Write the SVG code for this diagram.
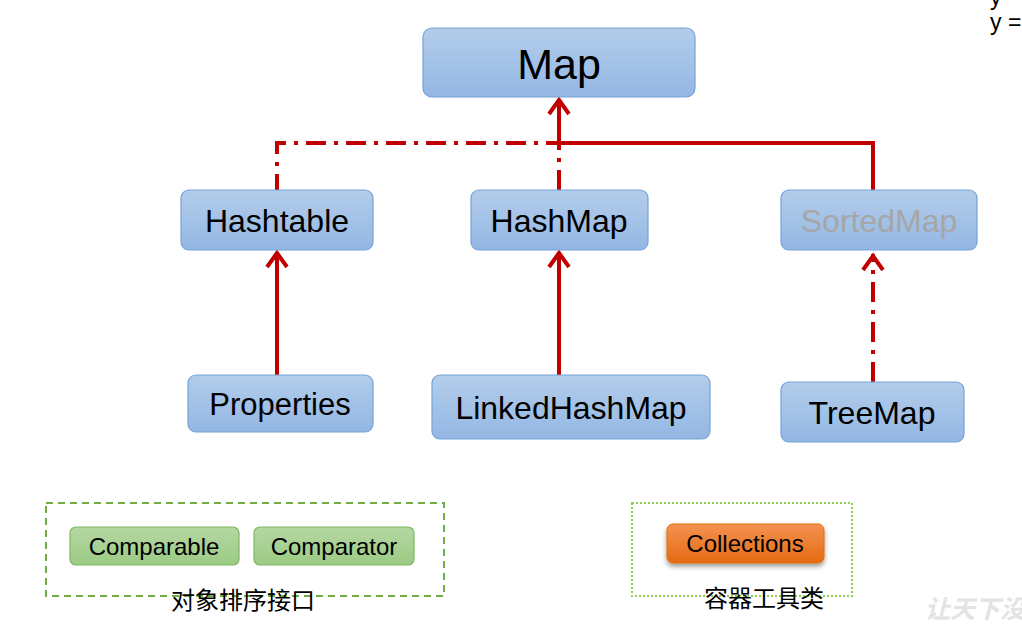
<svg xmlns="http://www.w3.org/2000/svg" width="1022" height="630" viewBox="0 0 1022 630">
<defs>
<linearGradient id="blue" x1="0" y1="0" x2="0" y2="1"><stop offset="0" stop-color="#B3CDEB"/><stop offset="1" stop-color="#93B7E3"/></linearGradient>
<linearGradient id="green" x1="0" y1="0" x2="0" y2="1"><stop offset="0" stop-color="#B5D7A3"/><stop offset="1" stop-color="#9BCB84"/></linearGradient>
<linearGradient id="orange" x1="0" y1="0" x2="0" y2="1"><stop offset="0" stop-color="#F49251"/><stop offset="1" stop-color="#E56A12"/></linearGradient>
<filter id="sh" x="-20%" y="-30%" width="140%" height="170%"><feDropShadow dx="0" dy="3" stdDeviation="2.5" flood-color="#000" flood-opacity="0.4"/></filter>
</defs>
<style>
.node{fill:url(#blue);stroke:#74A3D8;stroke-width:1.2}
.lbl{font-family:"Liberation Sans",Arial,sans-serif;fill:#000;text-anchor:middle}
.gn{fill:url(#green);stroke:#7DB660;stroke-width:1.2}
.ln{fill:none;stroke:#C00000;stroke-width:4}
.dd{stroke-dasharray:20 8 4 8}
.ah{fill:none;stroke:#C00000;stroke-width:4;stroke-linecap:butt;stroke-linejoin:miter}
.cjk{font-family:"Noto Sans CJK SC",sans-serif;font-size:24px;fill:#000;text-anchor:middle}
</style>
<rect width="1022" height="630" fill="#fff"/>
<g id="connectors">
<path class="ln" d="M559,99 V143 H873 V190"/>
<path class="ln dd" d="M559,190 V143 H277 V190"/>
<path class="ln" d="M277,375 V252"/>
<path class="ln" d="M559,375 V252"/>
<path class="ln dd" d="M873,382 V254"/>
<polyline class="ah" points="549,114 559,100 569,114"/>
<polyline class="ah" points="267,267 277,253 287,267"/>
<polyline class="ah" points="549,267 559,253 569,267"/>
<polyline class="ah" points="863,270 873,256 883,270"/>
</g>
<g id="Map"><rect class="node" x="423" y="28" width="272" height="69" rx="9"/><text class="lbl" x="559" y="79" font-size="43">Map</text></g>
<g id="Hashtable"><rect class="node" x="181" y="190" width="192" height="60" rx="8"/><text class="lbl" x="277" y="232" font-size="32">Hashtable</text></g>
<g id="HashMap"><rect class="node" x="471" y="190" width="177" height="60" rx="8"/><text class="lbl" x="559" y="232" font-size="32">HashMap</text></g>
<g id="SortedMap"><rect class="node" x="781" y="190" width="196" height="60" rx="8"/><text class="lbl" x="879" y="232" font-size="32" style="fill:#A6A6A6">SortedMap</text></g>
<g id="Properties"><rect class="node" x="188" y="375" width="185" height="57" rx="8"/><text class="lbl" x="280" y="415" font-size="31">Properties</text></g>
<g id="LinkedHashMap"><rect class="node" x="432" y="375" width="278" height="64" rx="8"/><text class="lbl" x="571" y="419" font-size="32">LinkedHashMap</text></g>
<g id="TreeMap"><rect class="node" x="781" y="382" width="183" height="60" rx="8"/><text class="lbl" x="872" y="424" font-size="32">TreeMap</text></g>
<g id="sortGroup">
<rect x="46" y="503" width="398" height="93" fill="none" stroke="#70AD47" stroke-width="2" stroke-dasharray="7 5"/>
<text class="cjk" x="243" y="609">对象排序接口</text>
</g>
<g id="Comparable"><rect class="gn" x="70" y="527" width="169" height="38" rx="6"/><text class="lbl" x="154" y="555" font-size="24">Comparable</text></g>
<g id="Comparator"><rect class="gn" x="254" y="527" width="160" height="38" rx="6"/><text class="lbl" x="334" y="555" font-size="24">Comparator</text></g>
<g id="toolGroup">
<rect x="632" y="503" width="220" height="93" fill="none" stroke="#92D050" stroke-width="2" stroke-dasharray="2 2"/>
<text class="cjk" x="764" y="607">容器工具类</text>
</g>
<g id="Collections"><rect x="667" y="524" width="157" height="39" rx="6" fill="url(#orange)" stroke="#E46C0A" filter="url(#sh)"/><text class="lbl" x="745" y="552" font-size="24">Collections</text></g>
<text x="990" y="30" font-family="Liberation Sans,sans-serif" font-size="23" fill="#000">y =</text>
<text x="990" y="5" font-family="Liberation Sans,sans-serif" font-size="23" fill="#000">y</text>
<text x="925" y="618" font-family="Noto Sans CJK SC,sans-serif" font-size="25" font-style="italic" fill="#E3E3E3" font-weight="bold">让天下没</text>
</svg>
